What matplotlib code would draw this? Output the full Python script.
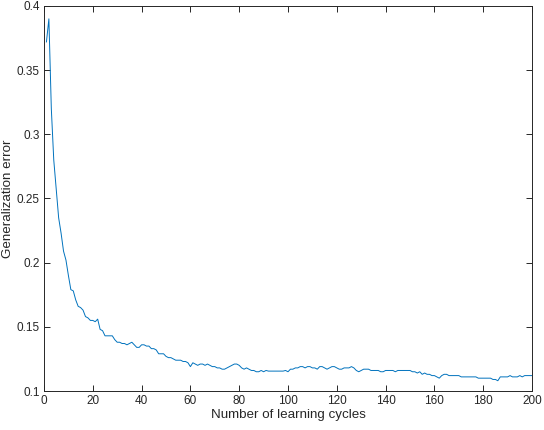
import numpy as np
import matplotlib
matplotlib.use("Agg")
import matplotlib.pyplot as plt

# learning cycle index and generalization error
cycles = list(range(1, 201))
gen_error = [
    0.372, 0.390, 0.320, 0.280, 0.258, 0.235, 0.223, 0.209, 0.202, 0.190,
    0.179, 0.178, 0.171, 0.166, 0.165, 0.163, 0.158, 0.157, 0.155, 0.155,
    0.154, 0.156, 0.148, 0.147, 0.143, 0.143, 0.143, 0.143, 0.140, 0.138,
    0.138, 0.137, 0.137, 0.136, 0.137, 0.138, 0.136, 0.134, 0.134, 0.136,
    0.136, 0.135, 0.135, 0.133, 0.133, 0.132, 0.129, 0.129, 0.129, 0.127,
    0.126, 0.126, 0.125, 0.124, 0.124, 0.124, 0.123, 0.123, 0.122, 0.119,
    0.122, 0.121, 0.120, 0.121, 0.121, 0.120, 0.121, 0.120, 0.119, 0.119,
    0.118, 0.118, 0.117, 0.117, 0.118, 0.119, 0.120, 0.121, 0.121, 0.120,
    0.118, 0.117, 0.118, 0.117, 0.116, 0.116, 0.115, 0.115, 0.116, 0.115,
    0.116, 0.1155, 0.1155, 0.1155, 0.1155, 0.1155, 0.1155, 0.1155, 0.116, 0.115,
    0.117, 0.117, 0.118, 0.118, 0.119, 0.119, 0.118, 0.119, 0.119, 0.118,
    0.118, 0.117, 0.119, 0.119, 0.118, 0.117, 0.118, 0.119, 0.119, 0.118,
    0.117, 0.117, 0.118, 0.118, 0.118, 0.119, 0.118, 0.116, 0.115, 0.116,
    0.117, 0.117, 0.117, 0.116, 0.116, 0.116, 0.116, 0.115, 0.115, 0.116,
    0.116, 0.116, 0.116, 0.115, 0.116, 0.116, 0.116, 0.116, 0.116, 0.116,
    0.115, 0.115, 0.114, 0.115, 0.113, 0.114, 0.113, 0.113, 0.112, 0.112,
    0.111, 0.110, 0.112, 0.113, 0.113, 0.112, 0.112, 0.112, 0.112, 0.112,
    0.111, 0.111, 0.111, 0.111, 0.111, 0.111, 0.111, 0.110, 0.110, 0.110,
    0.110, 0.110, 0.110, 0.109, 0.109, 0.108, 0.111, 0.111, 0.111, 0.111,
    0.112, 0.111, 0.111, 0.111, 0.112, 0.111, 0.112, 0.112, 0.112, 0.112,
]

x_ticks = list(range(0, 201, 20))
y_ticks = [0.1, 0.15, 0.2, 0.25, 0.3, 0.35, 0.4]
y_tick_labels = ["0.1", "0.15", "0.2", "0.25", "0.3", "0.35", "0.4"]

plt.rcParams['font.family'] = ['Liberation Sans', 'DejaVu Sans']

fig = plt.figure(figsize=(5.44, 4.30), dpi=100)
ax = fig.add_axes([44 / 544, 1 - 391 / 430, (532 - 44) / 544, (391 - 6) / 430])

ax.plot(cycles, gen_error, color='#0072BD', linewidth=0.7)

ax.set_xlim(0, 200)
ax.set_ylim(0.1, 0.4)
ax.set_xticks(x_ticks)
ax.set_yticks(y_ticks)
ax.set_yticklabels(y_tick_labels)

axis_col = '#262626'
for s in ax.spines.values():
    s.set_color(axis_col)
    s.set_linewidth(0.7)
ax.tick_params(direction='in', length=4, width=0.7, colors=axis_col,
               labelsize=8.5, top=True, right=True, pad=3)
for lab in ax.get_xticklabels() + ax.get_yticklabels():
    lab.set_color(axis_col)

ax.set_xlabel('Number of learning cycles', fontsize=9.6, color=axis_col, labelpad=1)
ax.set_ylabel('Generalization error', fontsize=9.6, color=axis_col, labelpad=2)

fig.savefig('out.png', dpi=100)
